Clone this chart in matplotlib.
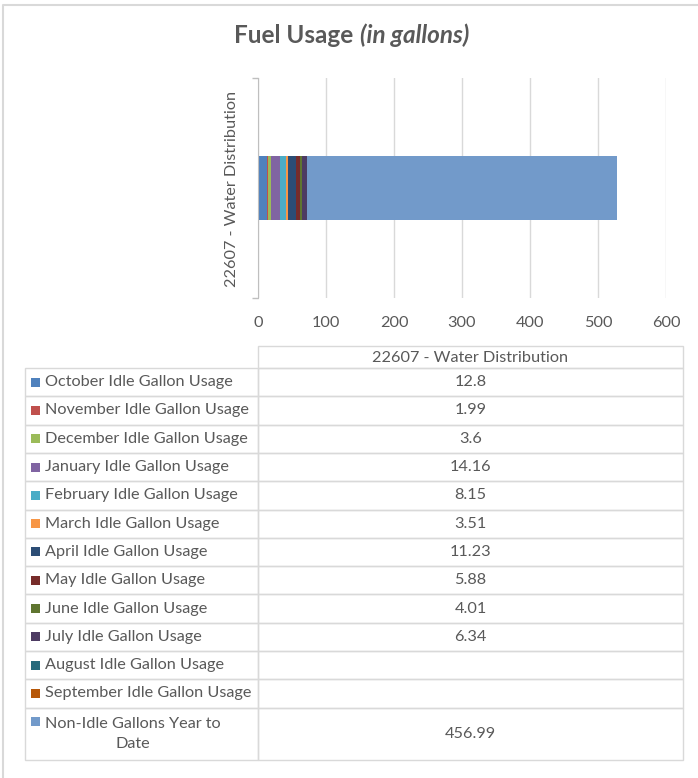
import matplotlib.pyplot as plt
from matplotlib.patches import Rectangle

plt.rcParams['font.family'] = ['Lato', 'DejaVu Sans']

# data
category = "22607 - Water Distribution"
series = ["October Idle Gallon Usage", "November Idle Gallon Usage",
          "December Idle Gallon Usage", "January Idle Gallon Usage",
          "February Idle Gallon Usage", "March Idle Gallon Usage",
          "April Idle Gallon Usage", "May Idle Gallon Usage",
          "June Idle Gallon Usage", "July Idle Gallon Usage",
          "August Idle Gallon Usage", "September Idle Gallon Usage",
          "Non-Idle Gallons Year to\nDate"]
values = [12.8, 1.99, 3.6, 14.16, 8.15, 3.51, 11.23, 5.88, 4.01, 6.34,
          None, None, 456.99]
colors = ["#4F81BD", "#C0504D", "#9BBB59", "#8064A2", "#4BACC6", "#F79646",
          "#2C4D75", "#772C2A", "#5F7530", "#4D3B62", "#276A7C", "#B65708",
          "#729ACA"]
xticks = [0, 100, 200, 300, 400, 500, 600]

W, H = 698, 778
txt = "#595959"
line = "#D9D9D9"
fs = 11.7

fig = plt.figure(figsize=(W / 100, H / 100), dpi=100)

# pixel canvas for border, title and table
cv = fig.add_axes([0, 0, 1, 1])
cv.set_xlim(0, W)
cv.set_ylim(H, 0)
cv.axis('off')


def box(l, t, r, b):
    return [l / W, 1 - b / H, (r - l) / W, (b - t) / H]


# bar chart
ax = fig.add_axes(box(258, 78, 666, 298))
ax.patch.set_alpha(0)
left = 0
for name, v, c in zip(series, values, colors):
    w = 0 if v is None else v
    ax.barh(0, w, left=left, height=0.29, color=c, linewidth=0)
    left += w
ax.set_xlim(0, 600)
ax.set_ylim(-0.5, 0.5)
ax.set_xticks(xticks)
ax.set_xticklabels([str(t) for t in xticks])
ax.tick_params(axis='x', length=0, pad=13, labelsize=fs, labelcolor=txt)
ax.set_yticks([-0.5, 0.5])
ax.set_yticklabels([])
ax.tick_params(axis='y', length=4, color="#BFBFBF", width=1)
for s in ['top', 'right', 'bottom']:
    ax.spines[s].set_visible(False)
ax.spines['left'].set_color("#BFBFBF")
ax.set_axisbelow(True)
ax.grid(axis='x', color=line, linewidth=1)
cv.text(232, 189, category, rotation=90, ha='center', va='center',
        fontsize=fs, color=txt)

# outer border (left and top visible)
cv.plot([3, 3, W], [H, 5, 5], color=line, linewidth=1.5)

# title
cv.text(353, 43, "Fuel Usage", ha='right', va='baseline', fontsize=17.5,
        fontweight='bold', color=txt)
cv.text(360, 43, "(in gallons)", ha='left', va='baseline', fontsize=17.5,
        fontweight='bold', style='italic', color=txt)

# data table
x0, x1, x2 = 25, 258, 683
top = 346
head_b = 368
rh = 28.3
bottoms = [head_b + rh * (i + 1) for i in range(12)] + [760]
tops = [head_b] + bottoms[:-1]

cv.add_patch(Rectangle((x1, top), x2 - x1, head_b - top, fill=False,
                       edgecolor=line, linewidth=1))
cv.text((x1 + x2) / 2, (top + head_b) / 2 + 1, category, ha='center',
        va='center', fontsize=fs, color=txt)
for i, (name, v, c) in enumerate(zip(series, values, colors)):
    t, b = tops[i], bottoms[i]
    cv.add_patch(Rectangle((x0, t), x1 - x0, b - t, fill=False,
                           edgecolor=line, linewidth=1))
    cv.add_patch(Rectangle((x1, t), x2 - x1, b - t, fill=False,
                           edgecolor=line, linewidth=1))
    yc = (t + b) / 2
    if "\n" in name:
        ky = t + 14
        cv.text(45, yc, name, ha='left', va='center', fontsize=fs,
                color=txt, multialignment='center', linespacing=1.5)
    else:
        ky = yc
        cv.text(45, yc, name, ha='left', va='center', fontsize=fs, color=txt)
    cv.add_patch(Rectangle((31, ky - 4.5), 9, 9, color=c, linewidth=0))
    if v is not None:
        cv.text((x1 + x2) / 2, yc, f"{v:g}", ha='center', va='center',
                fontsize=fs, color=txt)

fig.savefig("out.png", dpi=100)
